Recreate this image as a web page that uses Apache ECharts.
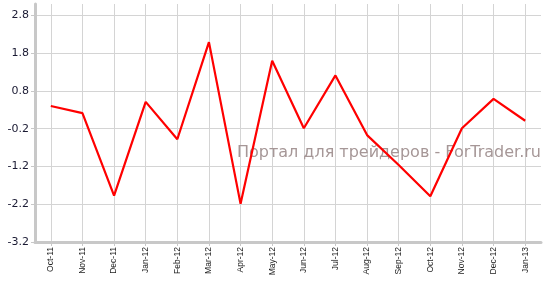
<!DOCTYPE html>
<html>
<head>
<meta charset="utf-8">
<script src="https://cdn.jsdelivr.net/npm/echarts@6/dist/echarts.min.js"></script>
<style>
html,body{margin:0;padding:0;background:#fff;}
#chart{width:548px;height:286px;}
</style>
</head>
<body>
<div id="chart"></div>
<script>
var categories = ['Oct-11','Nov-11','Dec-11','Jan-12','Feb-12','Mar-12','Apr-12','May-12','Jun-12','Jul-12','Aug-12','Sep-12','Oct-12','Nov-12','Dec-12','Jan-13'];
var values = [0.40, 0.21, -1.97, 0.51, -0.48, 2.09, -2.19, 1.60, -0.19, 1.21, -0.37, -1.16, -1.99, -0.19, 0.59, 0.01];
var yTicks = [-3.2, -2.2, -1.2, -0.2, 0.8, 1.8, 2.8];
var watermark = 'Портал для трейдеров - ForTrader.ru';

var chart = echarts.init(document.getElementById('chart'), null, {renderer: 'canvas'});
chart.setOption({
  animation: false,
  backgroundColor: '#ffffff',
  grid: {left: 35, right: 7, top: 4, bottom: 44, containLabel: false},
  xAxis: {
    type: 'category',
    data: categories,
    boundaryGap: true,
    axisLine: {show: true, onZero: false, lineStyle: {color: '#c8c8c8', width: 3}},
    axisTick: {show: true, alignWithLabel: true, length: 4, lineStyle: {color: '#c8c8c8', width: 1}},
    axisLabel: {rotate: 90, fontSize: 8.5, fontFamily: 'Liberation Sans, Arial, sans-serif', color: '#222', margin: 5},
    splitLine: {show: true, alignWithLabel: true, lineStyle: {color: '#d4d4d4', width: 1}}
  },
  yAxis: {
    type: 'value',
    min: yTicks[0],
    max: 3.1,
    interval: 1,
    axisLine: {show: true, lineStyle: {color: '#c8c8c8', width: 3}},
    axisTick: {show: true, length: 4, inside: false, lineStyle: {color: '#c8c8c8', width: 1}},
    axisLabel: {
      fontSize: 11, fontFamily: 'DejaVu Sans, Verdana, sans-serif', color: '#1a1a33', margin: 6,
      showMaxLabel: false,
      formatter: function (v) { return (Math.round(v * 10) / 10).toFixed(1); }
    },
    splitLine: {show: true, showMaxLine: false, lineStyle: {color: '#d4d4d4', width: 1}}
  },
  graphic: [{
    type: 'text',
    x: 541,
    y: 153,
    z: 1,
    style: {
      text: watermark,
      font: '16px "DejaVu Sans", sans-serif',
      fill: '#a69797',
      align: 'right',
      verticalAlign: 'middle'
    }
  }],
  series: [{
    type: 'line',
    data: values,
    symbol: 'none',
    z: 5,
    lineStyle: {color: '#ff0000', width: 2.2},
    itemStyle: {color: '#ff0000'}
  }]
});
</script>
</body>
</html>
